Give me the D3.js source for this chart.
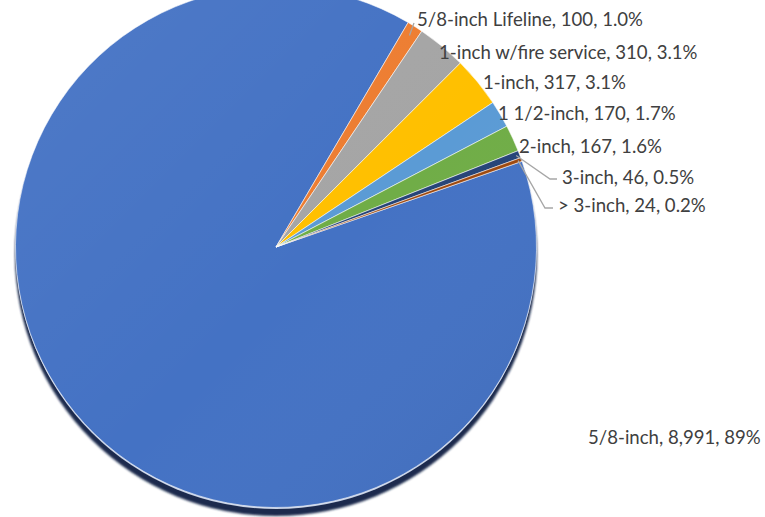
<!DOCTYPE html>
<html>
<head>
<meta charset="utf-8">
<script src="https://cdn.jsdelivr.net/npm/d3@7/dist/d3.min.js"></script>
<style>
  html, body { margin: 0; padding: 0; background: #fff; }
  svg { display: block; }
</style>
</head>
<body>
<svg id="chart" width="765" height="517"></svg>
<script>
// Meter counts by size
const categories = ["5/8-inch", "5/8-inch Lifeline", "1-inch w/fire service", "1-inch",
                    "1 1/2-inch", "2-inch", "3-inch", "> 3-inch"];
const counts = [8991, 100, 310, 317, 170, 167, 46, 24];
const percentLabels = ["89%", "1.0%", "3.1%", "3.1%", "1.7%", "1.6%", "0.5%", "0.2%"];
const colors = ["#4472C4", "#ED7D31", "#A5A5A5", "#FFC000", "#5B9BD5", "#70AD47", "#264478", "#9E480E"];

// Label placement (text left edge, vertical middle) and leader styles
const labelLayout = [
  { x: 588, y: 437, leader: null },
  { x: 417, y: 19,  leader: { r0: 250, to: [414, 23] } },
  { x: 439, y: 52,  leader: null },
  { x: 483, y: 82,  leader: null },
  { x: 498, y: 113, leader: null },
  { x: 519, y: 146, leader: null },
  { x: 562, y: 177, leader: { r0: 257, via: [550, 179], to: [557, 179] } },
  { x: 558, y: 205, leader: { r0: 257, via: [545, 208], to: [553, 208] } }
];

const cx = 276, cy = 247, radius = 260.5;
const firstSliceAngle = 70.8 * Math.PI / 180;

const svg = d3.select("#chart");
const defs = svg.append("defs");

const shade = defs.append("linearGradient")
  .attr("id", "shade").attr("x1", "0%").attr("y1", "0%").attr("x2", "100%").attr("y2", "100%");
shade.append("stop").attr("offset", "0%").attr("stop-color", "#fff").attr("stop-opacity", 0.06);
shade.append("stop").attr("offset", "55%").attr("stop-color", "#fff").attr("stop-opacity", 0);
shade.append("stop").attr("offset", "100%").attr("stop-color", "#000").attr("stop-opacity", 0.06);

defs.append("filter").attr("id", "soft")
  .append("feGaussianBlur").attr("stdDeviation", 0.8);

const g = svg.append("g").attr("transform", `translate(${cx},${cy})`);

// drop shadow beneath the pie
g.append("circle")
  .attr("cx", 0).attr("cy", 8).attr("r", radius + 0.5)
  .attr("fill", "#1C2C4E")
  .attr("filter", "url(#soft)");
g.append("circle")
  .attr("cx", 0).attr("cy", 1.5).attr("r", radius)
  .attr("fill", "#C9D3E6");

const pie = d3.pie().sort(null).value(d => d)
  .startAngle(firstSliceAngle).endAngle(firstSliceAngle + 2 * Math.PI);
const arcs = pie(counts);
const arc = d3.arc().innerRadius(0).outerRadius(radius);

g.selectAll("path.slice")
  .data(arcs)
  .join("path")
  .attr("class", "slice")
  .attr("d", arc)
  .attr("fill", (d, i) => colors[i])
  .attr("stroke", "#fff")
  .attr("stroke-opacity", 0.7)
  .attr("stroke-width", 0.8)
  .attr("stroke-linejoin", "round");

g.append("circle")
  .attr("r", radius)
  .attr("fill", "url(#shade)");

// leader lines
const fmt = d3.format(",");
arcs.forEach((d, i) => {
  const L = labelLayout[i].leader;
  if (!L) return;
  const mid = (d.startAngle + d.endAngle) / 2;
  const p0 = [cx + L.r0 * Math.sin(mid), cy - L.r0 * Math.cos(mid)];
  const pts = [p0];
  if (L.via) pts.push(L.via);
  pts.push(L.to);
  svg.append("path")
    .attr("d", d3.line()(pts))
    .attr("fill", "none")
    .attr("stroke", "#A6A6A6")
    .attr("stroke-width", 1.3);
});

// data labels
svg.selectAll("text.lbl")
  .data(arcs)
  .join("text")
  .attr("class", "lbl")
  .attr("x", (d, i) => labelLayout[i].x)
  .attr("y", (d, i) => labelLayout[i].y)
  .attr("dy", "0.35em")
  .attr("font-family", "Lato, 'Open Sans', sans-serif")
  .attr("font-size", 18.6)
  .attr("fill", "#404040")
  .text((d, i) => `${categories[i]}, ${fmt(counts[i])}, ${percentLabels[i]}`);
</script>
</body>
</html>
